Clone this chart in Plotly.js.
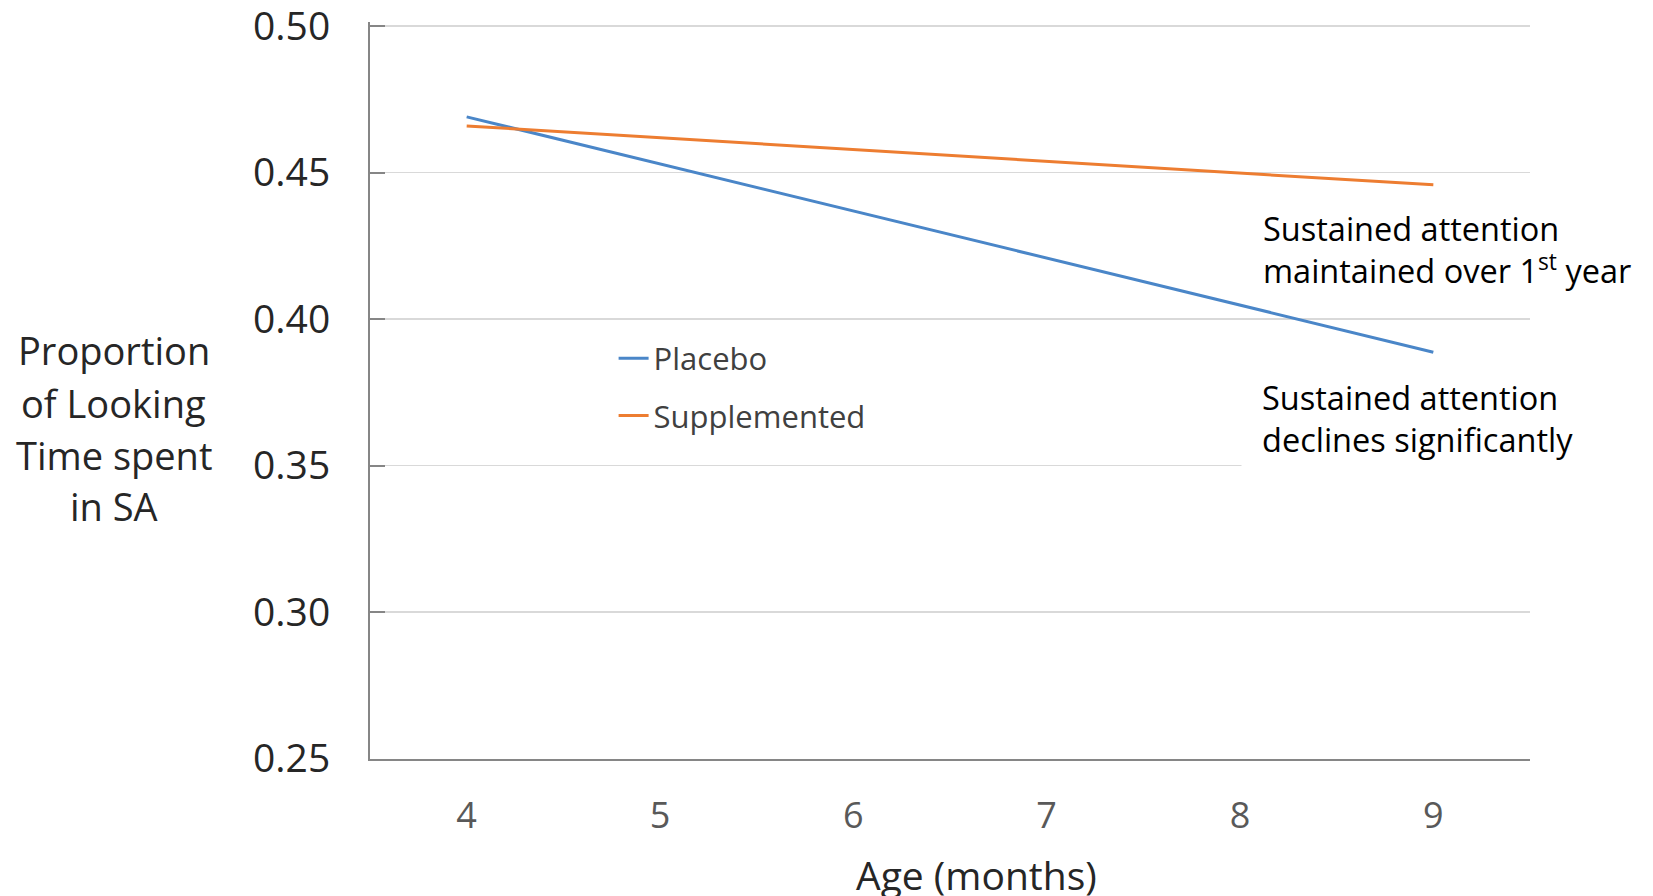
<!DOCTYPE html>
<html>
<head>
<meta charset="utf-8">
<script src="https://cdn.plot.ly/plotly-3.0.1.min.js"></script>
<style>html,body{margin:0;padding:0;background:#fff;}#chart{width:1653px;height:896px;}</style>
</head>
<body>
<div id="chart"></div>
<script>
// Data
const ageMonths = [4, 9];
const placebo = [0.469, 0.3887];
const supplemented = [0.4659, 0.4458];
const seriesNames = ["Placebo", "Supplemented"];
const xTickVals = [4, 5, 6, 7, 8, 9];
const yTickVals = [0.25, 0.30, 0.35, 0.40, 0.45, 0.50];
const yTitleLines = ["Proportion", "of Looking", "Time spent", "in SA"];
const noteMaintained = "Sustained attention<br>maintained over 1<sup>st</sup> year";
const noteDeclines = "Sustained attention<br>declines significantly";
const xTitle = "Age (months)";

const FONT = "'Open Sans', 'Noto Sans', sans-serif";

const traces = [
  {x: ageMonths, y: placebo, name: seriesNames[0], type: "scatter", mode: "lines",
   line: {color: "#4A86C8", width: 3}, legendgroup: "a"},
  {x: ageMonths, y: supplemented, name: seriesNames[1], type: "scatter", mode: "lines",
   line: {color: "#ED7D31", width: 3}, legendgroup: "b"}
];

// plot area: 0.25 at y=759px, 0.50 at y=26px; top margin 22 with range padded by 4px
const annotations = [];
const titleY = [0.5545, 0.4836, 0.4127, 0.3432];
yTitleLines.forEach((t, i) => {
  annotations.push({xref: "paper", yref: "paper", x: -0.221, y: titleY[i], text: t, showarrow: false,
    xanchor: "center", yanchor: "middle", font: {family: FONT, size: 38, color: "#262626"}});
});
annotations.push({xref: "paper", yref: "paper", x: 0.523, y: -0.157, text: xTitle, showarrow: false,
  xanchor: "center", yanchor: "middle", font: {family: FONT, size: 39, color: "#262626"}});
annotations.push({xref: "paper", yref: "paper", x: 0.768, y: 0.691, text: noteMaintained, showarrow: false,
  xanchor: "left", yanchor: "middle", align: "left", font: {family: FONT, size: 32.5, color: "#000"}});
annotations.push({xref: "paper", yref: "paper", x: 0.751, y: 0.4625, text: noteDeclines, showarrow: false,
  xanchor: "left", yanchor: "middle", align: "left", bgcolor: "#fff", borderpad: 20,
  font: {family: FONT, size: 32.5, color: "#000"}});

const layout = {
  width: 1653, height: 896,
  margin: {l: 370, r: 123, t: 22, b: 137},
  paper_bgcolor: "#fff", plot_bgcolor: "#fff",
  font: {family: FONT},
  showlegend: true,
  legend: {x: 0.21, y: 0.58, xanchor: "left", yanchor: "top", bgcolor: "rgba(0,0,0,0)",
    traceorder: "grouped", tracegroupgap: 14, font: {family: FONT, size: 31, color: "#404040"}},
  xaxis: {range: [3.5, 9.5], tickvals: xTickVals, showgrid: false, zeroline: false,
    showline: true, linecolor: "#868686", linewidth: 2, ticks: "",
    tickfont: {family: FONT, size: 36, color: "#595959"}, ticklabelstandoff: 24},
  yaxis: {range: [0.2499, 0.50136], tickvals: yTickVals, tickformat: ".2f", showgrid: true,
    gridcolor: "#D9D9D9", gridwidth: 1.5, zeroline: false, showline: true, linecolor: "#868686",
    linewidth: 2, ticks: "inside", ticklen: 15, tickwidth: 2, tickcolor: "#868686",
    ticklabeloverflow: "allow",
    tickfont: {family: FONT, size: 39, color: "#262626"}, ticklabelstandoff: 30},
  annotations: annotations
};

Plotly.newPlot("chart", traces, layout, {displayModeBar: false, staticPlot: true});
</script>
</body>
</html>
